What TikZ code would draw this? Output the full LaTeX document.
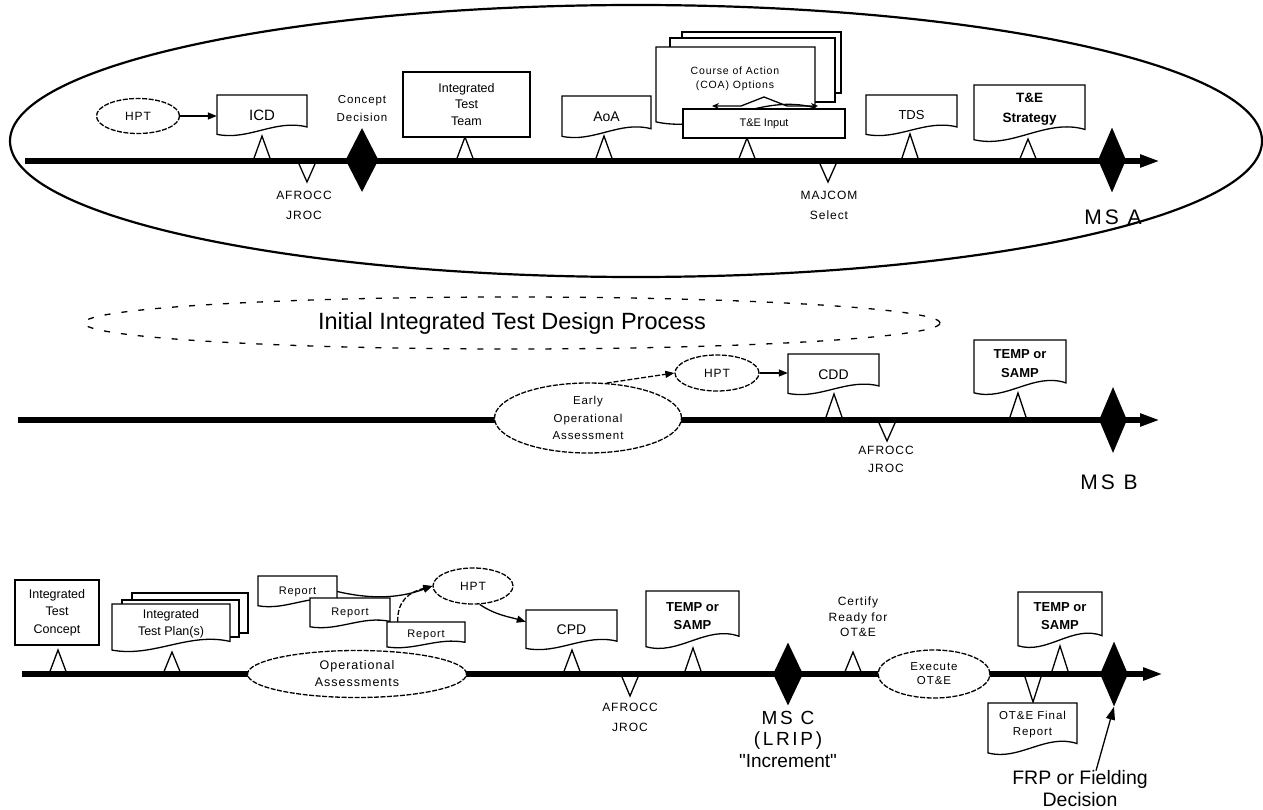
\documentclass[tikz,border=0pt]{standalone}
\usepackage{fontspec}
\setmainfont{Liberation Sans}
\newfontfamily\msfont[LetterSpace=14]{Liberation Sans}
\newfontfamily\sm[LetterSpace=8]{Liberation Sans}
\usetikzlibrary{shapes.geometric,arrows.meta,calc}

\tikzset{
  x=1pt, y=-1pt,
  frame/.style={draw=black, line width=1.3pt, fill=white},
  lbl/.style={align=center, inner sep=0pt},
  box/.style={frame, rectangle, inner sep=0pt, align=center},
  oval/.style={ellipse, draw=black, line width=1.3pt, dash pattern=on 5pt off 1.5pt,
               fill=white, inner sep=0pt, align=center},
  ms/.style={diamond, fill=black, draw=none, inner sep=0pt},
  timeline/.style={line width=6pt, -{Triangle[length=20pt,width=12pt]}},
  conn/.style={line width=1.3pt},
  tip/.style={-{Triangle[length=9pt,width=7pt]}},
}

% document symbol: flat top, wavy bottom; #2 name, (#3,#4) centre, #5 x #6 size
\newcommand\docbox[7][]{%
  \filldraw[frame] (#3-#5/2,#4-#6/2) -- (#3+#5/2,#4-#6/2) -- (#3+#5/2,#4+0.28*#6)
     .. controls (#3+0.15*#5,#4+0.08*#6) and (#3-0.15*#5,#4+0.62*#6) .. (#3-#5/2,#4+0.46*#6) -- cycle;
  \node[lbl,minimum width=#5pt,minimum height=#6pt,#1] (#2) at (#3,#4) {#7};
}
% milestone tick above the line (apex up) and below the line (apex down)
\newcommand\tickup[3]{\draw[frame,fill=none] (#1-9,#3) -- (#1,#2) -- (#1+9,#3);}
\newcommand\tickdn[3]{\draw[frame,fill=none] (#1-8,#2) -- (#1,#3) -- (#1+8,#2);}

\begin{document}
\begin{tikzpicture}
\useasboundingbox (0,0) rectangle (1263,810);

% ================= phase up to MS A =================
\node[draw, line width=2.2pt, ellipse, minimum width=1252pt, minimum height=272pt, inner sep=0pt]
  (phaseA) at (636,141) {};

\coordinate (a0) at (25,161);
\coordinate (a1) at (1160,161);
\draw[timeline] (a0) -- (a1);

\tickup{262}{136}{161}
\tickup{465}{137}{161}
\tickup{604}{136}{161}
\tickup{747}{138}{161}
\tickup{910}{134}{161}
\tickup{1028}{139}{161}
\tickdn{307}{164}{182}
\tickdn{828}{164}{182}

\node[ms, minimum width=33pt, minimum height=64pt] (cd) at (362,160) {};
\node[ms, minimum width=28pt, minimum height=65pt] (msa) at (1112,160) {};

\node[oval, minimum width=83pt, minimum height=35pt, font=\sm\fontsize{12}{14}\selectfont] (hpt1) at (138,116) {HPT};
\docbox[font=\fontsize{15}{17}\selectfont]{icd}{262}{115.5}{90}{41}{ICD}
\draw[conn,tip] (hpt1.east) -- (hpt1.east -| icd.west);

\node[lbl, font=\sm\fontsize{11.5}{18}\selectfont] (cdlbl) at (362,109) {Concept\\Decision};

\node[box, minimum width=127pt, minimum height=65pt, font=\fontsize{12.5}{16.5}\selectfont]
  (itt) at (466.5,104.5) {Integrated\\Test\\Team};

\docbox[font=\fontsize{14}{16}\selectfont]{aoa}{606.5}{117}{89}{42}{AoA}

% stacked course-of-action pages
\draw[frame] (682,32) rectangle (841,93);
\draw[frame] (670,38) rectangle (835,102);
\docbox{coa}{735.5}{86}{159}{78}{}
\node[lbl, font=\sm\fontsize{10.5}{14}\selectfont] (coatxt) at (735,79) {Course of Action\\(COA) Options};
\node[box, minimum width=162pt, minimum height=29pt, font=\fontsize{11}{13}\selectfont]
  (tei) at (764,123.5) {T\&E Input};
\draw[conn, {Stealth[length=7pt,width=6pt]}-{Stealth[length=7pt,width=6pt]}]
  (712,106) -- (741,106) -- (764,97) -- (787,106) -- (818,106);

\docbox[font=\fontsize{13}{15}\selectfont]{tds}{911.5}{115.5}{91}{41}{TDS}
\docbox[font=\bfseries\fontsize{13.5}{20}\selectfont, yshift=4pt]{tes}{1029.5}{113.5}{111}{57}{T\&E\\Strategy}

\node[lbl, font=\sm\fontsize{12}{20}\selectfont] (afr1) at (304,205) {AFROCC\\JROC};
\node[lbl, font=\sm\fontsize{12}{20}\selectfont] (maj) at (829,205) {MAJCOM\\Select};
\node[lbl, font=\msfont\fontsize{21}{24}\selectfont] (msalbl) at (1113,217) {MS A};

% ================= design process =================
\node[ellipse, draw=black, line width=1.3pt, dash pattern=on 6pt off 11pt,
      minimum width=856pt, minimum height=52pt, inner sep=0pt,
      font=\fontsize{23.5}{26}\selectfont] (idp) at (512,323) {Initial Integrated Test Design Process};

% ================= phase up to MS B =================
\coordinate (b0) at (18,420);
\coordinate (b1) at (1160,420);
\draw[timeline] (b0) -- (b1);

\tickup{834}{394}{420}
\tickup{1018}{393}{420}
\tickdn{887}{423}{441}

\node[ms, minimum width=28pt, minimum height=66pt] (msb) at (1113,420) {};

\node[oval, minimum width=187pt, minimum height=70pt, font=\sm\fontsize{11.5}{17.5}\selectfont]
  (eoa) at (588,418) {Early\\Operational\\Assessment};
\node[oval, minimum width=84pt, minimum height=36pt, font=\sm\fontsize{12}{14}\selectfont] (hpt2) at (717,373) {HPT};
\docbox[font=\fontsize{14}{16}\selectfont]{cdd}{833.5}{374.5}{91}{41}{CDD}
\draw[conn, dash pattern=on 5pt off 2pt, tip] (eoa.62) -- (hpt2.west);
\draw[conn,tip] (hpt2.east) -- (hpt2.east -| cdd.west);

\docbox[font=\bfseries\fontsize{13}{19}\selectfont, yshift=4pt]{tmp1}{1020}{367.5}{92}{55}{TEMP or\\SAMP}

\node[lbl, font=\sm\fontsize{12}{18}\selectfont] (afr2) at (886,459) {AFROCC\\JROC};
\node[lbl, font=\msfont\fontsize{21}{24}\selectfont] (msblbl) at (1109,482) {MS B};

% ================= phase up to full rate =================
\coordinate (c0) at (22,674);
\coordinate (c1) at (1163,674);
\draw[timeline] (c0) -- (c1);

\tickup{58}{650}{674}
\tickup{172}{652}{674}
\tickup{572}{650}{674}
\tickup{693}{648}{674}
\tickup{853}{652}{674}
\tickup{1060}{646}{674}
\tickdn{630}{677}{696}
\tickdn{1033}{677}{702}

\node[ms, minimum width=30pt, minimum height=63pt] (msc) at (788,674) {};
\node[ms, minimum width=28pt, minimum height=65pt] (msf) at (1114,674) {};

\node[box, minimum width=84pt, minimum height=65pt, font=\fontsize{12.5}{17.5}\selectfont]
  (itc) at (57,612.5) {Integrated\\Test\\Concept};

% stacked test plan pages
\draw[frame] (132,593) rectangle (248,633);
\draw[frame] (122,600) rectangle (239,637);
\docbox[font=\fontsize{12.5}{17}\selectfont, yshift=4pt]{itp}{171}{628}{118}{48}{Integrated\\Test Plan(s)}

\node[oval, minimum width=219pt, minimum height=47pt, font=\sm\fontsize{12.5}{17}\selectfont]
  (oa) at (357,674) {Operational\\Assessments};

\docbox[font=\sm\fontsize{11}{12}\selectfont]{rep1}{297.5}{591.5}{79}{31}{Report}
\docbox[font=\sm\fontsize{11}{12}\selectfont]{rep2}{350}{613}{80}{30}{Report}
\docbox[font=\sm\fontsize{11}{12}\selectfont]{rep3}{426}{635}{78}{26}{Report}

\node[oval, minimum width=80pt, minimum height=36pt, font=\sm\fontsize{12}{14}\selectfont] (hpt3) at (473,586) {HPT};
\draw[conn,tip] (rep1.east) .. controls (365,598) and (395,600) .. (hpt3.west);
\draw[conn, dash pattern=on 5pt off 2pt, tip] ([xshift=11pt]rep3.north west)
  .. controls (397,600) and (410,592) .. (hpt3.west);

\docbox[font=\fontsize{14}{16}\selectfont]{cpd}{571.5}{630}{91}{40}{CPD}
\draw[conn,tip] (hpt3.290) .. controls (495,615) and (510,617) .. ([yshift=-12pt]cpd.north west);

\docbox[font=\bfseries\fontsize{13}{18}\selectfont, yshift=4pt]{tmp2}{692.5}{620}{93}{58}{TEMP or\\SAMP}

\node[lbl, font=\sm\fontsize{12}{20}\selectfont] (afr3) at (630,717) {AFROCC\\JROC};
\node[lbl, font=\msfont\fontsize{19}{21.5}\selectfont] (msclbl) at (788,739) {MS C\\(LRIP)\\{\fontspec{Liberation Sans}"Increment"}};

\node[lbl, font=\sm\fontsize{12}{15.5}\selectfont] (cert) at (858,617) {Certify\\Ready for\\OT\&E};

\node[oval, minimum width=112pt, minimum height=48pt, font=\sm\fontsize{11.5}{14}\selectfont]
  (exe) at (934,674) {Execute\\OT\&E};

\docbox[font=\bfseries\fontsize{13}{18}\selectfont, yshift=4pt]{tmp3}{1060}{620}{84}{56}{TEMP or\\SAMP}
\docbox[font=\sm\fontsize{11.5}{16}\selectfont, yshift=4pt]{otr}{1032.5}{729}{89}{52}{OT\&E Final\\Report}

\node[lbl, font=\fontsize{19.5}{22}\selectfont] (frp) at (1080,789) {FRP or Fielding\\Decision};
\draw[conn, -{Triangle[length=13pt,width=9pt]}] ([xshift=16pt]frp.north) -- (msf.south);

\end{tikzpicture}
\end{document}
